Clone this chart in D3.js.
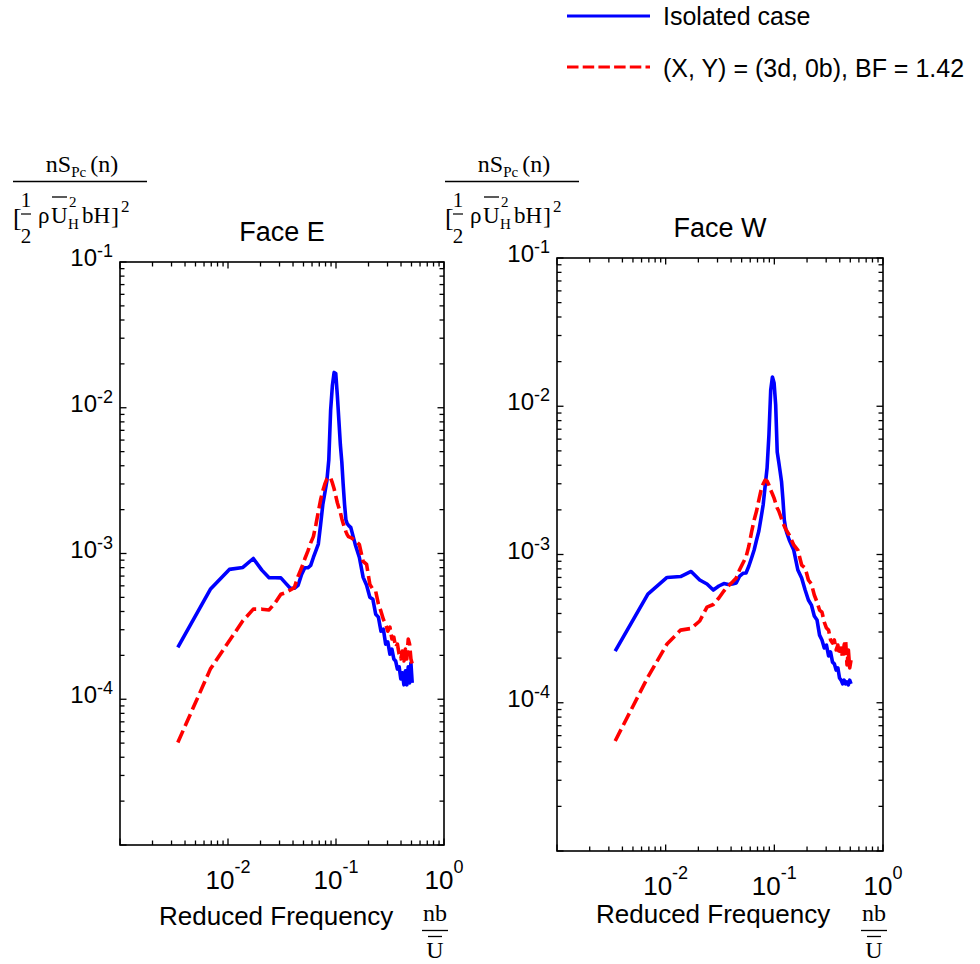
<!DOCTYPE html>
<meta charset="utf-8">
<style>
body { margin: 0; background: #fff; }
svg { font-family: "Liberation Sans", Arial, Helvetica, sans-serif; }
.serif { font-family: "Liberation Serif", "Times New Roman", serif; }
.tk { stroke: #000; stroke-width: 1.3; }
.box { fill: none; stroke: #000; stroke-width: 1.6; }
.iso { fill: none; stroke: #0000ff; stroke-width: 3.6; stroke-linejoin: round; }
.bf { fill: none; stroke: #ff0000; stroke-width: 3.6; stroke-dasharray: 13,5; stroke-linejoin: round; }
</style>
<body>
<script src="https://cdn.jsdelivr.net/npm/d3@7"></script>
<script>

// reduced frequency nb/U (same grid for every series)
var freq = [0.00343,0.00686,0.01029,0.01372,0.01715,0.02058,0.02401,0.02744,0.03087,0.0343,
  0.03773,0.04116,0.04459,0.04802,0.05145,0.05488,0.05831,0.06174,0.06517,0.0686,
  0.07203,0.07546,0.07889,0.08232,0.08575,0.08918,0.09261,0.09604,0.09947,0.1029,
  0.1063,0.1098,0.1132,0.1166,0.1201,0.1235,0.1269,0.1303,0.1372,0.1509,
  0.1646,0.1784,0.1921,0.2058,0.2195,0.2332,0.247,0.2607,0.2744,0.2881,
  0.3018,0.3156,0.3293,0.343,0.3567,0.3704,0.3842,0.3979,0.4116,0.4253,
  0.439,0.4528,0.4665,0.4802,0.4939,0.5076];

// Face E
var faceEIsolated = [2.27e-4,5.68e-4,7.78e-4,8.02e-4,9.24e-4,7.69e-4,6.82e-4,6.82e-4,6.80e-4,6.24e-4,
  5.77e-4,5.77e-4,6.05e-4,7.19e-4,7.98e-4,7.98e-4,8.28e-4,9.39e-4,1.048e-3,1.161e-3,
  1.578e-3,2.16e-3,2.61e-3,3.15e-3,4.38e-3,9.61e-3,1.424e-2,1.747e-2,1.72e-2,1.217e-2,
  8.21e-3,5.55e-3,4.25e-3,2.96e-3,2.16e-3,1.706e-3,1.603e-3,1.565e-3,1.505e-3,1.151e-3,
  9.39e-4,6.86e-4,6.05e-4,5.01e-4,4.85e-4,3.83e-4,3.66e-4,2.93e-4,3.03e-4,2.39e-4,
  2.47e-4,2.04e-4,2.21e-4,1.89e-4,1.83e-4,1.61e-4,1.67e-4,1.38e-4,1.52e-4,1.256e-4,
  1.565e-4,1.256e-4,1.67e-4,1.296e-4,1.774e-4,1.296e-4];
var faceEBF = [5.05e-5,1.61e-4,2.52e-4,3.45e-4,4.15e-4,4.15e-4,4.10e-4,4.61e-4,5.25e-4,5.39e-4,
  5.62e-4,5.83e-4,7.0e-4,7.98e-4,9.2e-4,1.037e-3,1.183e-3,1.306e-3,1.578e-3,1.935e-3,
  2.336e-3,2.69e-3,3.0e-3,3.25e-3,3.35e-3,3.30e-3,3.05e-3,2.78e-3,2.49e-3,2.23e-3,
  2.06e-3,1.905e-3,1.733e-3,1.603e-3,1.505e-3,1.413e-3,1.348e-3,1.306e-3,1.286e-3,1.227e-3,
  1.151e-3,8.82e-4,8.41e-4,6.14e-4,5.68e-4,5.5e-4,4.49e-4,4.02e-4,3.54e-4,3.27e-4,
  2.93e-4,3.13e-4,2.59e-4,2.67e-4,2.28e-4,2.39e-4,2.04e-4,1.89e-4,2.14e-4,1.83e-4,
  2.21e-4,1.89e-4,2.59e-4,2.39e-4,1.89e-4,1.75e-4];

// Face W
var faceWIsolated = [2.23e-4,5.41e-4,7.0e-4,7.10e-4,7.68e-4,6.73e-4,6.32e-4,5.76e-4,6.13e-4,6.37e-4,
  6.27e-4,6.32e-4,6.42e-4,7.16e-4,7.47e-4,7.5e-4,8.36e-4,9.47e-4,1.072e-3,1.253e-3,
  1.44e-3,1.763e-3,2.157e-3,2.9e-3,3.83e-3,6.4e-3,1.287e-2,1.576e-2,1.435e-2,1.02e-2,
  4.91e-3,4.21e-3,3.6e-3,3.08e-3,2.33e-3,1.709e-3,1.51e-3,1.396e-3,1.253e-3,1.072e-3,
  7.86e-4,6.94e-4,5.76e-4,4.93e-4,4.56e-4,3.85e-4,3.62e-4,2.86e-4,2.65e-4,2.34e-4,
  2.45e-4,2.07e-4,2.2e-4,1.88e-4,1.83e-4,1.66e-4,1.72e-4,1.47e-4,1.42e-4,1.34e-4,
  1.42e-4,1.34e-4,1.38e-4,1.32e-4,1.42e-4,1.34e-4];
var faceWBF = [5.52e-5,1.49e-4,2.49e-4,3.09e-4,3.17e-4,3.56e-4,4.42e-4,4.6e-4,5.09e-4,5.67e-4,
  6.13e-4,6.52e-4,6.94e-4,7.92e-4,8.76e-4,9.62e-4,1.141e-3,1.418e-3,1.709e-3,1.965e-3,
  2.33e-3,2.72e-3,2.99e-3,3.18e-3,3.13e-3,2.94e-3,2.72e-3,2.56e-3,2.4e-3,2.22e-3,
  2.06e-3,1.965e-3,1.847e-3,1.736e-3,1.632e-3,1.557e-3,1.486e-3,1.44e-3,1.354e-3,1.159e-3,
  1.072e-3,8.49e-4,8.11e-4,6.73e-4,6.32e-4,5.33e-4,4.78e-4,4.22e-4,4.09e-4,3.5e-4,
  3.19e-4,3.09e-4,2.65e-4,2.53e-4,2.65e-4,2.27e-4,2.45e-4,2.1e-4,2.34e-4,2.0e-4,
  2.45e-4,2.65e-4,1.8e-4,2.27e-4,1.72e-4,1.94e-4];

var xExponents = [-2, -1, 0];
var yExponents = [-1, -2, -3, -4];
var legendLabels = ["Isolated case", "(X, Y) = (3d, 0b), BF = 1.42"];

var panels = [
  {title: "Face E", iso: faceEIsolated, bf: faceEBF,
   left: 120, right: 444, top: 262, bottom: 845, frac: 13, xlab: 925},
  {title: "Face W", iso: faceWIsolated, bf: faceWBF,
   left: 557, right: 883, top: 258, bottom: 851, frac: 445, xlab: 923}
];

var svg = d3.select("body").append("svg")
    .attr("width", 980)
    .attr("height", 964);

function decadeTicks(lo, hi) {
  var major = [], minor = [];
  for (var e = lo; e <= hi; e++) {
    major.push(Math.pow(10, e));
    if (e < hi) for (var m = 2; m <= 9; m++) minor.push(m * Math.pow(10, e));
  }
  return {major: major, minor: minor};
}

function drawPanel(p) {
  var x = d3.scaleLog().domain([1e-3, 1]).range([p.left, p.right]);
  var y = d3.scaleLog().domain([1e-5, 1e-1]).range([p.bottom, p.top]);
  var g = svg.append("g");

  var line = d3.line()
      .x(function(d, i) { return x(freq[i]); })
      .y(function(d) { return y(d); });

  g.append("path").datum(p.iso).attr("class", "iso").attr("d", line);
  g.append("path").datum(p.bf).attr("class", "bf").attr("d", line);

  g.append("rect").attr("class", "box")
    .attr("x", p.left).attr("y", p.top)
    .attr("width", p.right - p.left).attr("height", p.bottom - p.top);

  // inward ticks on all four sides
  var xt = decadeTicks(-3, 0), yt = decadeTicks(-5, -1);
  var tg = g.append("g");
  [[xt.minor, 4.5], [xt.major, 6.5]].forEach(function(t) {
    [[p.bottom, -1], [p.top, 1]].forEach(function(s) {
      tg.selectAll(null).data(t[0]).enter().append("line").attr("class", "tk")
        .attr("x1", function(d) { return x(d); }).attr("x2", function(d) { return x(d); })
        .attr("y1", s[0]).attr("y2", s[0] + s[1] * t[1]);
    });
  });
  [[yt.minor, 4.5], [yt.major, 6.5]].forEach(function(t) {
    [[p.left, 1], [p.right, -1]].forEach(function(s) {
      tg.selectAll(null).data(t[0]).enter().append("line").attr("class", "tk")
        .attr("y1", function(d) { return y(d); }).attr("y2", function(d) { return y(d); })
        .attr("x1", s[0]).attr("x2", s[0] + s[1] * t[1]);
    });
  });

  // tick labels 10^e
  g.selectAll(".xlbl").data(xExponents).enter().append("text")
    .attr("x", function(d) { return x(Math.pow(10, d)); })
    .attr("y", p.bottom + 44)
    .attr("text-anchor", "middle")
    .attr("font-size", 26)
    .each(function(d) {
      var t = d3.select(this);
      t.append("tspan").text("10");
      t.append("tspan").attr("dy", -16).attr("font-size", 18).text(d);
    });

  g.selectAll(".ylbl").data(yExponents).enter().append("text")
    .attr("x", p.left - 7)
    .attr("y", function(d) { return y(Math.pow(10, d)) + 4; })
    .attr("text-anchor", "end")
    .attr("font-size", 24)
    .each(function(d) {
      var t = d3.select(this);
      t.append("tspan").text("10");
      t.append("tspan").attr("dy", -9).attr("font-size", 18).text(d);
    });

  g.append("text")
    .attr("x", (p.left + p.right) / 2)
    .attr("y", p.top - 21)
    .attr("text-anchor", "middle")
    .attr("font-size", 27)
    .text(p.title);

  // x label
  g.append("text")
    .attr("x", p.left + 39)
    .attr("y", p.xlab)
    .attr("font-size", 26)
    .text("Reduced Frequency");

  var cx = p.right - 9;
  g.append("text").attr("class", "serif").attr("x", cx).attr("y", 921)
    .attr("text-anchor", "middle").attr("font-size", 24).text("nb");
  g.append("line").attr("x1", cx - 13).attr("x2", cx + 13).attr("y1", 930.5).attr("y2", 930.5)
    .attr("stroke", "#000").attr("stroke-width", 1.3);
  g.append("line").attr("x1", cx - 7).attr("x2", cx + 7).attr("y1", 936.5).attr("y2", 936.5)
    .attr("stroke", "#000").attr("stroke-width", 1.3);
  g.append("text").attr("class", "serif").attr("x", cx).attr("y", 958)
    .attr("text-anchor", "middle").attr("font-size", 24).text("U");

  // y label  nS_Pc(n) / [1/2 rho U_H^2 b H]^2
  var fx = p.frac;
  var f = g.append("g").attr("class", "serif");
  var num = f.append("text").attr("x", fx + 69).attr("y", 172)
    .attr("text-anchor", "middle").attr("font-size", 24);
  num.append("tspan").text("nS");
  num.append("tspan").attr("dy", 5).attr("font-size", 15).text("Pc");
  num.append("tspan").attr("dy", -5).attr("dx", 4).text("(n)");
  f.append("line").attr("x1", fx).attr("x2", fx + 134).attr("y1", 181.5).attr("y2", 181.5)
    .attr("stroke", "#000").attr("stroke-width", 1.3);

  function piece(str, dx, yy, size, anchor) {
    f.append("text").attr("x", fx + dx).attr("y", yy).attr("font-size", size)
      .attr("text-anchor", anchor || "start").text(str);
  }
  piece("[", 0, 226, 26);
  piece("1", 13, 207, 21, "middle");
  f.append("line").attr("x1", fx + 8).attr("x2", fx + 18).attr("y1", 214).attr("y2", 214)
    .attr("stroke", "#000").attr("stroke-width", 1.2);
  piece("2", 13, 243, 21, "middle");
  piece("\u03c1", 25, 223, 23);
  piece("U", 38, 223, 23);
  f.append("line").attr("x1", fx + 39).attr("x2", fx + 54).attr("y1", 197).attr("y2", 197)
    .attr("stroke", "#000").attr("stroke-width", 1.3);
  piece("2", 56, 207, 15);
  piece("H", 55, 229, 15);
  piece("bH", 69, 223, 23);
  piece("]", 98, 224, 24);
  piece("2", 108, 212, 17);
}

panels.forEach(drawPanel);

// legend
var legend = svg.append("g");
legend.selectAll("line").data(legendLabels).enter().append("line")
  .attr("class", function(d, i) { return i ? "bf" : "iso"; })
  .attr("x1", 567).attr("x2", 650)
  .attr("y1", function(d, i) { return 16 + i * 51; })
  .attr("y2", function(d, i) { return 16 + i * 51; })
  .style("stroke-width", 3)
  .style("stroke-dasharray", function(d, i) { return i ? "11.5,4.2" : null; });
legend.selectAll("text").data(legendLabels).enter().append("text")
  .attr("x", 663)
  .attr("y", function(d, i) { return 25 + i * 52; })
  .attr("font-size", 25)
  .text(function(d) { return d; });

</script>
